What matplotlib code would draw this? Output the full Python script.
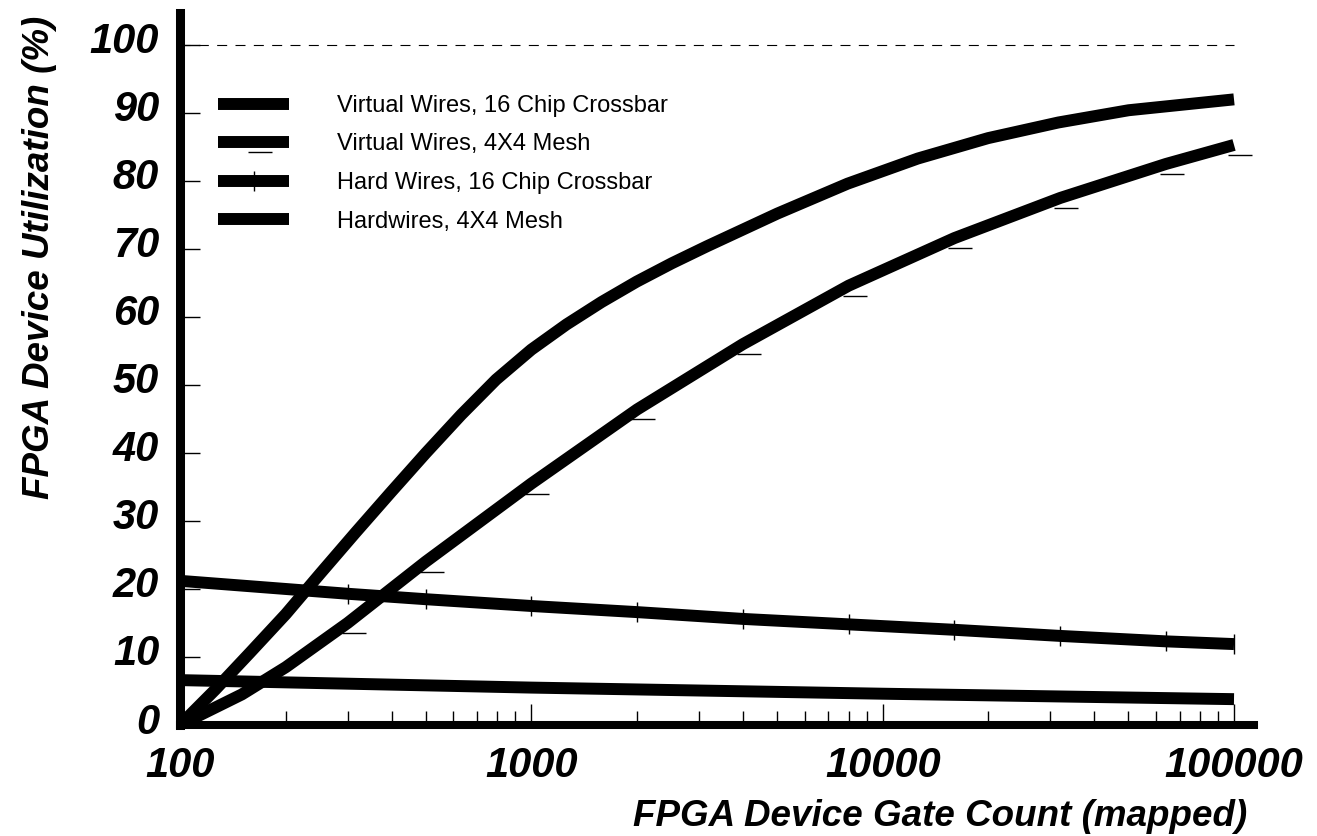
import matplotlib
matplotlib.use('Agg')
import matplotlib.pyplot as plt
import matplotlib.transforms as mtransforms
from matplotlib.ticker import LogLocator, NullFormatter, FixedLocator

# Data
vw_cross_x = [100, 126, 158, 200, 251, 316, 398, 501, 631, 794, 1000, 1259, 1585, 1995,
              2512, 3162, 5012, 7943, 12589, 19953, 31623, 50119, 100000]
vw_cross_y = [0, 5.2, 10.6, 16.3, 22.3, 28.3, 34.2, 40.0, 45.6, 50.8, 55.2, 58.9, 62.2,
              65.2, 67.9, 70.4, 75.2, 79.6, 83.3, 86.3, 88.6, 90.4, 92.0]

vw_mesh_x = [100, 150, 200, 300, 500, 1000, 2000, 4000, 8000, 16000, 32000, 64000, 100000]
vw_mesh_y = [0, 4.5, 8.5, 15.0, 24.0, 35.5, 46.4, 56.0, 64.6, 71.6, 77.5, 82.5, 85.3]

hw_cross_x = [100, 300, 500, 1000, 2000, 4000, 8000, 16000, 32000, 64000, 100000]
hw_cross_y = [21.2, 19.3, 18.5, 17.5, 16.6, 15.6, 14.8, 14.0, 13.1, 12.3, 11.9]

hw_mesh_x = [100, 1000, 10000, 100000]
hw_mesh_y = [6.6, 5.5, 4.6, 3.8]

labels = ['Virtual Wires, 16 Chip Crossbar', 'Virtual Wires, 4X4 Mesh',
          'Hard Wires, 16 Chip Crossbar', 'Hardwires, 4X4 Mesh']

x_ticks = [100, 1000, 10000, 100000]
y_ticks = [0, 10, 20, 30, 40, 50, 60, 70, 80, 90, 100]

plt.rcParams['font.family'] = ['Liberation Sans', 'DejaVu Sans']

fig = plt.figure(figsize=(13.17, 8.36), dpi=100)
ax = fig.add_axes([180 / 1317, 111 / 836, 1074 / 1317, 712 / 836])

LW = 8.6
ax.plot(vw_cross_x, vw_cross_y, color='black', lw=LW, solid_capstyle='butt',
        solid_joinstyle='round', label=labels[0])
# small dash markers sit just below/right of the curve in the original
dash_marker = [(-6, -10), (18, -10)]
ax.plot(vw_mesh_x, vw_mesh_y, color='black', lw=LW, solid_capstyle='butt',
        solid_joinstyle='round', marker=dash_marker, markersize=26, markeredgewidth=1.0,
        markevery=slice(3, None), label=labels[1])
ax.plot(hw_cross_x, hw_cross_y, color='black', lw=LW, solid_capstyle='butt',
        marker='|', markersize=14.5, markeredgewidth=1.0,
        markevery=slice(1, None), label=labels[2])
ax.plot(hw_mesh_x, hw_mesh_y, color='black', lw=LW, solid_capstyle='butt', label=labels[3])

# dashed 100% line
ax.hlines(100, 100, 100000, colors='black', lw=0.8, linestyles=(0, (9, 7.5)))

ax.set_xscale('log')
ax.set_xlim(100, 114000)
ax.set_ylim(0, 104.7)

ax.spines['top'].set_visible(False)
ax.spines['right'].set_visible(False)
ax.spines['left'].set_linewidth(6.5)
ax.spines['bottom'].set_linewidth(5.8)

ax.xaxis.set_major_locator(FixedLocator(x_ticks))
ax.xaxis.set_minor_locator(LogLocator(base=10, subs=range(2, 10)))
ax.xaxis.set_minor_formatter(NullFormatter())
ax.set_xticks(x_ticks, [str(v) for v in x_ticks])
ax.set_yticks(y_ticks, [str(v) for v in y_ticks])

ax.tick_params(axis='x', which='major', direction='in', length=15, width=1, pad=15,
               labelsize=30)
ax.tick_params(axis='x', which='minor', direction='in', length=10, width=1)
ax.tick_params(axis='y', which='major', direction='in', length=14.4, width=1, pad=15,
               labelsize=30)

for lbl in ax.get_xticklabels() + ax.get_yticklabels():
    lbl.set_fontweight('bold')
    lbl.set_fontstyle('italic')

# y tick labels sit a little above their ticks
fig.canvas.draw()
shift = mtransforms.ScaledTranslation(0, 0.07, fig.dpi_scale_trans)
for lbl in ax.get_yticklabels():
    lbl.set_transform(lbl.get_transform() + shift)

ax.set_xlabel('FPGA Device Gate Count (mapped)', fontsize=26.5, fontweight='bold',
              fontstyle='italic', va='top')
ax.xaxis.set_label_coords(0.7076, -0.104)
ax.set_ylabel('FPGA Device Utilization (%)', fontsize=26.5, fontweight='bold',
              fontstyle='italic', loc='top')
ax.yaxis.set_label_coords(-0.1145, 0.9958)

leg_size = 17
leg_px = leg_size * 100 / 72
ax.legend(loc='upper left', bbox_to_anchor=(38 / 1074, (725 - 109 + 0.6 * leg_px) / 712),
          frameon=False, borderpad=0, borderaxespad=0,
          handlelength=71 / leg_px, handletextpad=48 / leg_px,
          labelspacing=(44 - 1.16 * leg_px) / leg_px,
          prop={'size': leg_size, 'weight': 'normal', 'style': 'normal'})

fig.savefig('out.png', dpi=100)
